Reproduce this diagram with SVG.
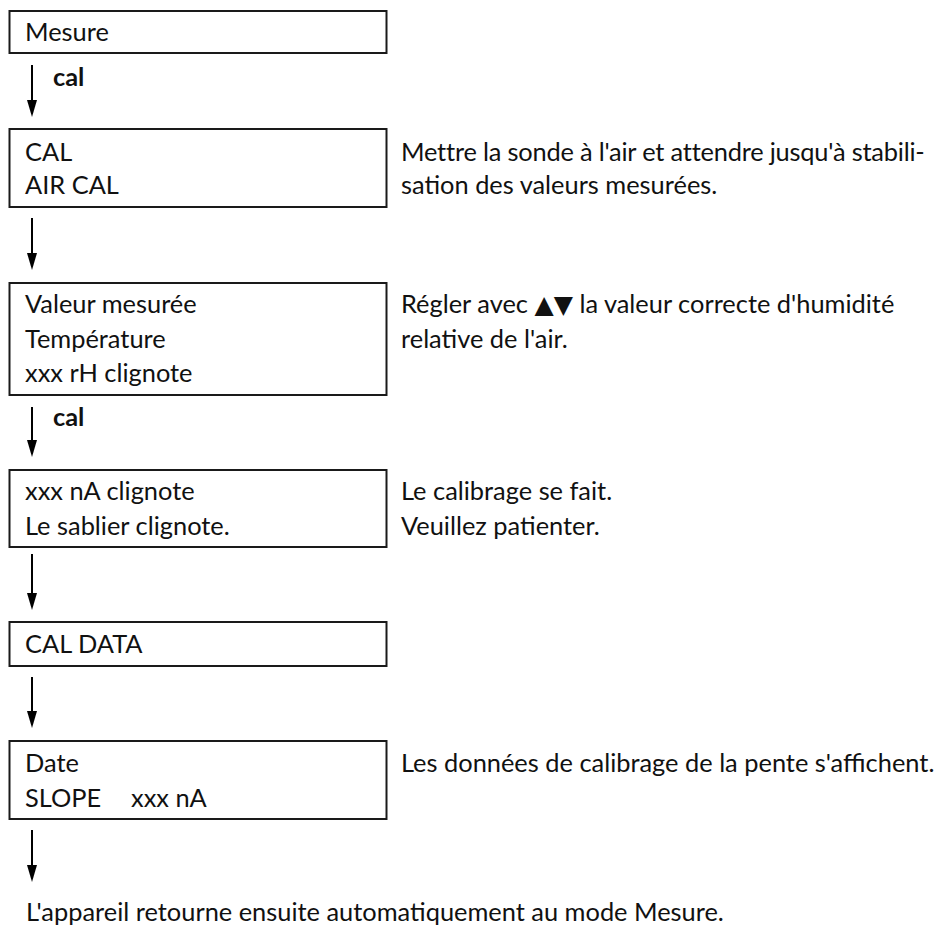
<svg xmlns="http://www.w3.org/2000/svg" width="939" height="929" viewBox="0 0 939 929">
<defs>
<style>
.box{fill:#fff;stroke:#1a1a1a;stroke-width:2}
.t{font-family:Lato,"Liberation Sans",sans-serif;font-size:25.4px;fill:#111}
.b{font-family:Lato,"Liberation Sans",sans-serif;font-size:25.4px;font-weight:bold;fill:#111}
.sym{font-family:"DejaVu Sans",sans-serif;font-size:25px}
.arr{stroke:#000;stroke-width:2;fill:none}
.head{fill:#000}
</style>
</defs>
<rect width="939" height="929" fill="#fff"/>
<g id="connectors">
<path class="arr" d="M32,65 L32,103"/><path class="head" d="M27,100 L37,100 L32,117 Z"/>
<path class="arr" d="M32,218 L32,256"/><path class="head" d="M27,253 L37,253 L32,270 Z"/>
<path class="arr" d="M32,407 L32,443"/><path class="head" d="M27,440 L37,440 L32,457 Z"/>
<path class="arr" d="M32,554 L32,596"/><path class="head" d="M27,593 L37,593 L32,610 Z"/>
<path class="arr" d="M32,677 L32,714"/><path class="head" d="M27,711 L37,711 L32,728 Z"/>
<path class="arr" d="M32,830 L32,868"/><path class="head" d="M27,865 L37,865 L32,882 Z"/>
<text class="b" x="53" y="86">cal</text>
<text class="b" x="53" y="426">cal</text>
</g>
<g id="n1">
<rect class="box" x="9.5" y="11" width="377" height="42"/>
<text class="t" x="25" y="41">Mesure</text>
</g>
<g id="n2">
<rect class="box" x="9.5" y="129" width="377" height="78"/>
<text class="t" x="25" y="161">CAL</text>
<text class="t" x="25" y="194">AIR CAL</text>
<text class="t" x="401" y="161" letter-spacing="-0.2">Mettre la sonde à l'air et attendre jusqu'à stabili-</text>
<text class="t" x="401" y="194">sation des valeurs mesurées.</text>
</g>
<g id="n3">
<rect class="box" x="9.5" y="283" width="377" height="112"/>
<text class="t" x="25" y="313">Valeur mesurée</text>
<text class="t" x="25" y="348">Température</text>
<text class="t" x="25" y="382">xxx rH clignote</text>
<text class="t" x="401" y="313">Régler avec <tspan class="sym">▲▼</tspan> la valeur correcte d'humidité</text>
<text class="t" x="401" y="348">relative de l'air.</text>
</g>
<g id="n4">
<rect class="box" x="9.5" y="470" width="377" height="77"/>
<text class="t" x="25" y="500">xxx nA clignote</text>
<text class="t" x="25" y="535">Le sablier clignote.</text>
<text class="t" x="401" y="500">Le calibrage se fait.</text>
<text class="t" x="401" y="535">Veuillez patienter.</text>
</g>
<g id="n5">
<rect class="box" x="9.5" y="622" width="377" height="44"/>
<text class="t" x="25" y="653">CAL DATA</text>
</g>
<g id="n6">
<rect class="box" x="9.5" y="741" width="377" height="78"/>
<text class="t" x="25" y="772">Date</text>
<text class="t" x="25" y="807">SLOPE</text>
<text class="t" x="131" y="807">xxx nA</text>
<text class="t" x="401" y="772">Les données de calibrage de la pente s'affichent.</text>
</g>
<g id="n7">
<text class="t" x="26" y="921">L'appareil retourne ensuite automatiquement au mode Mesure.</text>
</g>
</svg>
